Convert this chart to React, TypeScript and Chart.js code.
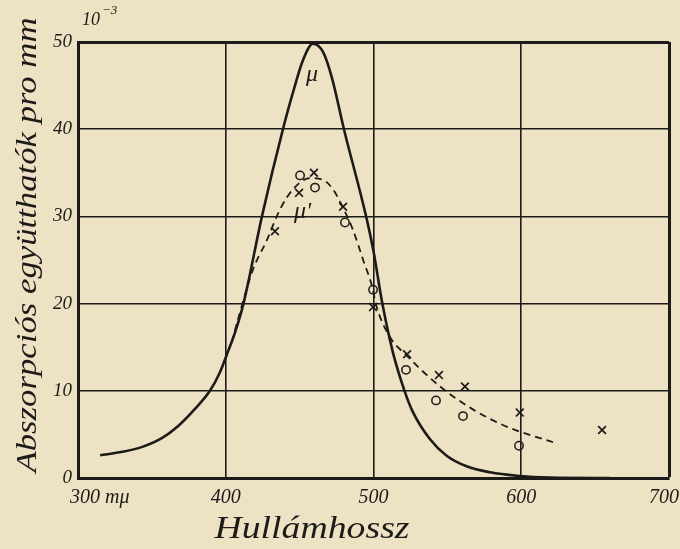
import { useEffect, useRef } from "react";
import { Chart, registerables } from "chart.js";
Chart.register(...registerables);

// Solid curve μ
const muX = [315, 330, 344, 357, 368, 379, 389.3, 396, 401.5, 406.3, 412, 424.5, 438.7, 446, 452, 459, 466, 472, 480, 495, 500, 506, 513, 521, 526.7, 538, 549.5, 563, 579, 597, 620, 660];
const muY = [2.6, 3.0, 3.6, 4.6, 6.0, 7.9, 10, 12.1, 14.5, 16.7, 20, 30, 40, 44.5, 47.8, 49.8, 48.8, 45.8, 40, 30, 26, 20, 14.5, 10, 7.55, 4.5, 2.55, 1.34, 0.65, 0.26, 0.05, 0];
// Dashed curve μ'
const mu2X = [404, 408.3, 418.4, 427.9, 436.7, 445.5, 457, 465.8, 472.6, 479, 486, 493, 499, 502, 511, 522.7, 545, 567, 590, 621.5];
const mu2Y = [15.5, 18.2, 23.9, 27.3, 30.8, 33.1, 34.4, 34.2, 33.1, 31.1, 28.5, 25, 22, 19.7, 16.2, 14, 10.5, 7.9, 5.9, 4.1];
// x markers
const crossX = [433.3, 449.6, 459.7, 479.4, 499.7, 522.7, 544.3, 561.9, 599, 654.7];
const crossY = [28.3, 32.7, 35.0, 31.1, 19.6, 14.2, 11.8, 10.5, 7.5, 5.5];
// o markers
const circX = [450.3, 460.4, 480.7, 499.7, 522, 542.3, 560.6, 598.5];
const circY = [34.7, 33.3, 29.3, 21.6, 12.4, 8.9, 7.1, 3.7];

const xTicks = [300, 400, 500, 600, 700];
const xTickLabels = ["300 mμ", "400", "500", "600", "700"];
const yTicks = [0, 10, 20, 30, 40, 50];
const xTitle = "Hullámhossz";
const yTitle = "Abszorpciós együtthatók pro mm";
const curveLabels = [
  { text: "μ", x: 458.4, y: 46.2 },
  { text: "μ'", x: 452, y: 30.5 },
];

const INK = "#1d1b18";
const PAPER = "#ede2c4";
const FONT = "'Liberation Serif', 'DejaVu Serif', serif";

const zip = (xs: number[], ys: number[]) => xs.map((x, i) => ({ x, y: ys[i] }));

function fitText(c: CanvasRenderingContext2D, text: string, x: number, y: number, width: number) {
  const w = c.measureText(text).width;
  c.save();
  c.translate(x, y);
  c.scale(width / w, 1);
  c.textAlign = "center";
  c.fillText(text, 0, 0);
  c.restore();
}

export default function App() {
  const ref = useRef<HTMLCanvasElement | null>(null);
  useEffect(() => {
    if (!ref.current) return;
    const deco = {
      id: "deco",
      beforeDraw(chart: any) {
        const c = chart.ctx;
        c.save();
        c.fillStyle = PAPER;
        c.fillRect(0, 0, chart.width, chart.height);
        c.restore();
      },
      afterDraw(chart: any) {
        const c = chart.ctx;
        const xs = chart.scales.x;
        const ys = chart.scales.y;
        const a = chart.chartArea;
        c.save();
        c.fillStyle = INK;
        c.textBaseline = "middle";
        // x tick labels
        c.font = `italic 20px ${FONT}`;
        xTicks.forEach((v, i) => {
          const px = xs.getPixelForValue(v);
          if (i === 0) {
            c.textAlign = "left";
            c.fillText(xTickLabels[i], px - 8, a.bottom + 20);
          } else if (i === xTicks.length - 1) {
            c.textAlign = "right";
            c.fillText(xTickLabels[i], 679, a.bottom + 20);
          } else {
            c.textAlign = "center";
            c.fillText(xTickLabels[i], px, a.bottom + 20);
          }
        });
        // x title
        c.font = `italic 31px ${FONT}`;
        fitText(c, xTitle, 312, 530, 195);
        // y title
        c.save();
        c.translate(28, 245);
        c.rotate(-Math.PI / 2);
        c.font = `italic 29px ${FONT}`;
        fitText(c, yTitle, 0, 0, 455);
        c.restore();
        // 10^-3
        c.textAlign = "left";
        c.font = `italic 18px ${FONT}`;
        c.fillText("10", a.left + 4, 20);
        c.font = `italic 13px ${FONT}`;
        c.fillText("−3", a.left + 24, 11);
        // curve labels
        c.font = `italic 24px ${FONT}`;
        c.textAlign = "center";
        curveLabels.forEach((l) => {
          c.fillText(l.text, xs.getPixelForValue(l.x), ys.getPixelForValue(l.y));
        });
        c.restore();
      },
    };
    const chart = new Chart(ref.current, {
      type: "scatter",
      data: {
        datasets: [
          {
            label: "μ",
            data: zip(muX, muY),
            showLine: true,
            borderColor: INK,
            borderWidth: 2.6,
            pointRadius: 0,
            cubicInterpolationMode: "monotone",
          },
          {
            label: "μ'",
            data: zip(mu2X, mu2Y),
            showLine: true,
            borderColor: INK,
            borderWidth: 1.8,
            borderDash: [7, 5],
            pointRadius: 0,
            cubicInterpolationMode: "monotone",
          },
          {
            label: "x",
            data: zip(crossX, crossY),
            pointStyle: "crossRot",
            pointRadius: 5.5,
            borderColor: INK,
            borderWidth: 1.7,
            backgroundColor: INK,
          },
          {
            label: "o",
            data: zip(circX, circY),
            pointStyle: "circle",
            pointRadius: 4.2,
            borderColor: INK,
            borderWidth: 1.5,
            backgroundColor: "rgba(0,0,0,0)",
          },
        ],
      } as any,
      options: {
        responsive: false,
        animation: false,
        devicePixelRatio: 1,
        layout: { padding: { top: 42, right: 11, left: 0, bottom: 0 } },
        plugins: { legend: { display: false }, tooltip: { enabled: false } },
        scales: {
          x: {
            type: "linear",
            min: 300,
            max: 700,
            afterBuildTicks: (s: any) => {
              s.ticks = xTicks.map((v) => ({ value: v }));
            },
            afterFit: (s: any) => {
              s.height = 71;
            },
            ticks: { display: false },
            grid: {
              color: INK,
              lineWidth: (ctx: any) => (ctx.tick && ctx.tick.value === 700 ? 3 : 1.6),
              drawTicks: false,
            },
            border: { display: true, color: INK, width: 3 },
          },
          y: {
            type: "linear",
            min: 0,
            max: 50,
            afterBuildTicks: (s: any) => {
              s.ticks = yTicks.map((v) => ({ value: v }));
            },
            afterFit: (s: any) => {
              s.width = 78;
            },
            ticks: {
              color: INK,
              font: { family: FONT, size: 19, style: "italic" },
              padding: 6,
            },
            grid: {
              color: INK,
              lineWidth: (ctx: any) => (ctx.tick && ctx.tick.value === 50 ? 3 : 1.6),
              drawTicks: false,
            },
            border: { display: true, color: INK, width: 3 },
          },
        },
      } as any,
      plugins: [deco],
    });
    return () => chart.destroy();
  }, []);
  return (
    <div style={{ position: "fixed", left: 0, top: 0, width: 680, height: 549, background: PAPER }}>
      <canvas ref={ref} width={680} height={549} />
    </div>
  );
}
